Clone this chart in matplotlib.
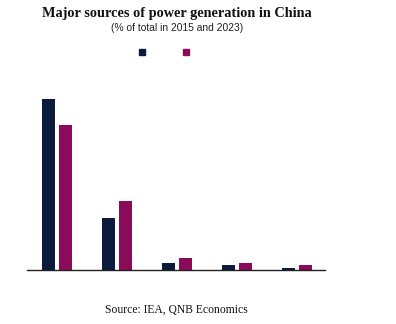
import matplotlib.pyplot as plt
import numpy as np
from matplotlib.lines import Line2D

# share of total power generation (%)
sources = ["Coal", "Renewables", "Nuclear", "Gas", "Oil"]
share_2015 = [70.0, 21.5, 3.0, 2.0, 1.1]
share_2023 = [59.4, 28.3, 4.9, 3.0, 2.2]
years = ["2015", "2023"]

DARK = "#0C1a3e"
PINK = "#8a0c58"

fig = plt.figure(figsize=(3.96, 3.24), dpi=100)
ax = fig.add_axes([0.0674, 0.1657, 0.7533, 0.5663])

x = np.arange(len(sources))
width = 0.22
ax.bar(x - 0.142, share_2015, width, color=DARK)
ax.bar(x + 0.142, share_2023, width, color=PINK)

ax.set_xlim(-0.5, 4.47)
ax.set_ylim(0, 75)
ax.set_xticks([])
ax.set_yticks([])
for side in ["top", "right", "left"]:
    ax.spines[side].set_visible(False)
ax.spines["bottom"].set_color("#222222")
ax.spines["bottom"].set_linewidth(1.0)

fig.text(0.446, 0.958, "Major sources of power generation in China",
         ha="center", va="center", fontsize=10.3, fontweight="bold",
         family="Liberation Serif", color="#111111")
fig.text(0.447, 0.915, "(% of total in 2015 and 2023)",
         ha="center", va="center", fontsize=7.4,
         family="Liberation Sans", color="#222222")

# legend shows only the colour squares, no text
handles = [Line2D([], [], marker="s", linestyle="none", markersize=4.2,
                  color=c) for c in (DARK, PINK)]
fig.legend(handles, ["", ""], loc="center", bbox_to_anchor=(0.414, 0.838),
           ncol=2, frameon=False, handletextpad=0, columnspacing=2.16,
           handlelength=1.0)

fig.text(0.446, 0.043, "Source: IEA, QNB Economics", ha="center",
         va="center", fontsize=8.4, family="Liberation Serif",
         color="#111111")

fig.savefig("out.png", dpi=100)
